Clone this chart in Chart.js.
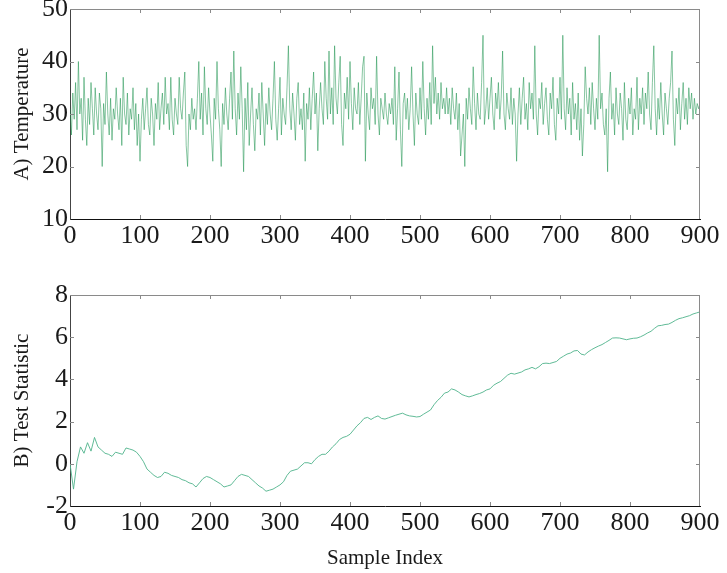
<!DOCTYPE html>
<html><head><meta charset="utf-8">
<script src="https://cdn.jsdelivr.net/npm/chart.js@4.4.0/dist/chart.umd.min.js"></script>
<style>
html,body{margin:0;padding:0;background:#fff;}
#wrap{position:relative;width:727px;height:573px;overflow:hidden;}
#c1{position:absolute;left:0;top:0;}
#c2{position:absolute;left:0;top:270px;}
</style></head><body>
<div id="wrap"><canvas id="c1" width="727" height="268"></canvas><canvas id="c2" width="727" height="303"></canvas></div>
<script>
// Panel A: temperature, one value every 2 samples (0..900)
const tempStep = 2;
const temperature = [
31,26,34,29,36,27,40,30,33,25,
37,29,24,33,28,36,31,26,35,30,
27,34,31,20,32,28,38,30,26,33,
25,31,29,35,30,27,33,24,37,30,
28,34,26,31,29,35,27,32,24,30,
21,29,33,27,31,35,28,26,33,30,
24,32,29,36,27,31,34,28,37,30,
32,27,37,29,26,33,30,28,37,31,
29,34,38,24,20,30,27,33,29,31,
27,33,40,29,34,26,39,31,28,35,
30,26,21,33,29,40,31,27,20,32,
28,35,30,27,33,38,29,42,31,26,
34,29,39,31,19,33,27,36,24,30,
35,28,23,31,29,34,26,36,30,24,
32,28,35,30,27,33,40,29,25,31,
37,26,33,30,28,35,43,31,27,34,
30,25,33,36,28,31,27,34,21,32,
29,35,27,33,38,30,34,23,31,36,
31,28,40,33,29,42,30,35,28,43,
33,30,36,41,28,24,34,31,37,29,
40,32,27,35,31,30,36,28,33,39,
41,21,34,30,27,35,31,33,28,41,
30,26,33,31,29,34,30,28,32,30,
33,28,39,25,31,38,27,20,32,34,
29,33,27,31,39,30,24,34,30,28,
35,29,40,31,26,33,29,36,28,43,
32,37,30,34,29,36,31,33,30,35,
30,33,28,35,31,29,34,27,32,22,
26,30,20,33,29,35,31,28,39,32,
27,34,30,29,36,45,28,31,35,29,
33,37,30,27,34,31,36,29,33,42,
30,27,34,31,29,35,28,33,30,21,
30,35,28,33,37,29,32,27,36,31,
34,29,43,30,26,33,31,36,28,32,
35,29,26,34,31,37,28,25,33,30,
37,29,45,31,27,35,30,33,26,36,
29,32,27,34,25,31,22,28,39,33,
30,35,28,36,31,27,33,29,45,31,
34,28,26,31,19,33,38,29,32,26,
35,30,28,34,31,25,36,29,27,33,
30,35,26,31,29,37,27,33,30,35,
28,34,31,38,30,27,36,43,31,26,
33,29,36,30,26,34,31,28,33,36,
42,29,24,33,30,35,27,32,36,29,
33,28,35,31,34,29,33,30,32,31,
32
];
// Panel B: test statistic, one value every 5 samples (0..900)
const statStep = 5;
const testStatistic = [
0.0,-1.2,0.1,0.8,0.5,1.0,0.6,1.25,0.8,0.65,
0.5,0.45,0.35,0.55,0.5,0.45,0.75,0.7,0.65,0.55,
0.35,0.1,-0.25,-0.4,-0.55,-0.65,-0.6,-0.4,-0.45,-0.55,
-0.6,-0.65,-0.75,-0.8,-0.9,-0.95,-1.1,-0.9,-0.7,-0.6,
-0.65,-0.75,-0.85,-0.95,-1.1,-1.05,-1.0,-0.8,-0.6,-0.5,
-0.55,-0.6,-0.75,-0.9,-1.05,-1.15,-1.3,-1.25,-1.2,-1.1,
-1.0,-0.85,-0.55,-0.35,-0.3,-0.25,-0.1,0.05,0.05,0.0,
0.2,0.35,0.45,0.45,0.6,0.8,0.95,1.15,1.25,1.3,
1.4,1.6,1.8,1.95,2.15,2.2,2.1,2.2,2.27,2.15,
2.12,2.18,2.24,2.3,2.35,2.4,2.32,2.27,2.25,2.22,
2.24,2.35,2.45,2.55,2.8,3.0,3.15,3.35,3.4,3.55,
3.5,3.4,3.28,3.22,3.17,3.22,3.28,3.33,3.4,3.5,
3.55,3.72,3.82,3.9,4.05,4.2,4.29,4.25,4.3,4.35,
4.45,4.5,4.57,4.5,4.6,4.75,4.77,4.75,4.8,4.85,
5.0,5.1,5.2,5.25,5.35,5.37,5.2,5.16,5.3,5.41,
5.5,5.58,5.65,5.75,5.85,5.96,5.97,5.96,5.92,5.88,
5.92,5.95,5.96,6.02,6.1,6.2,6.28,6.42,6.54,6.56,
6.6,6.62,6.7,6.8,6.88,6.92,6.97,7.02,7.1,7.15,
7.2
];
const xTickValues = [0,100,200,300,400,500,600,700,800,900];
const tempTickValues = [10,20,30,40,50];
const statTickValues = [-2,0,2,4,6,8];

const tempPoints = temperature.map((v,i)=>({x:i*tempStep,y:v}));
const statPoints = testStatistic.map((v,i)=>({x:i*statStep,y:v}));

const FONT = 'Liberation Serif, Times New Roman, serif';

// inward tick marks + top/right frame
const frameTicks = {
  id:'frameTicks',
  afterDraw(chart){
    const {ctx, chartArea:a, scales} = chart;
    const xs = scales.x, ys = scales.y;
    ctx.save();
    ctx.strokeStyle = '#8a8a8a';
    ctx.lineWidth = 1;
    ctx.beginPath();
    ctx.moveTo(a.left, a.top+0.5); ctx.lineTo(a.right, a.top+0.5);
    ctx.moveTo(a.right-0.5, a.top); ctx.lineTo(a.right-0.5, a.bottom);
    const L = 4;
    xs.ticks.forEach(t=>{
      if (t.value<=xs.min || t.value>=xs.max) return;
      const px = Math.round(xs.getPixelForValue(t.value))+0.5;
      ctx.moveTo(px,a.bottom); ctx.lineTo(px,a.bottom-L);
      ctx.moveTo(px,a.top); ctx.lineTo(px,a.top+L);
    });
    ys.ticks.forEach(t=>{
      if (t.value<=ys.min || t.value>=ys.max) return;
      const py = Math.round(ys.getPixelForValue(t.value))+0.5;
      ctx.moveTo(a.left,py); ctx.lineTo(a.left+L,py);
      ctx.moveTo(a.right,py); ctx.lineTo(a.right-L,py);
    });
    ctx.stroke();
    ctx.restore();
  }
};

function makeChart(id, points, yTicks, yTitle, color, width, opts){
  return new Chart(document.getElementById(id), {
    type:'line',
    data:{datasets:[{data:points, borderColor:color, borderWidth:width, pointRadius:0, tension:0, fill:false}]},
    options:{
      responsive:false, animation:false, devicePixelRatio:1,
      parsing:false, normalized:true,
      layout:{padding:opts.padding},
      plugins:{legend:{display:false}, tooltip:{enabled:false}},
      scales:{
        x:{type:'linear', min:0, max:900,
          afterBuildTicks(s){ s.ticks = xTickValues.map(v=>({value:v})); },
          afterFit(s){ s.height = opts.xHeight; s.paddingLeft=0; s.paddingRight=0; },
          grid:{display:false, drawTicks:false},
          border:{display:true, color:'#111', width:1},
          ticks:{font:{family:FONT,size:26}, color:'#1a1a1a', padding:opts.xPad, maxRotation:0, autoSkip:false},
          title:{display:!!opts.xTitle, text:opts.xTitle||'', font:{family:FONT,size:21}, color:'#1a1a1a', padding:{top:0,bottom:2}}
        },
        y:{type:'linear', min:yTicks[0], max:yTicks[yTicks.length-1],
          afterBuildTicks(s){ s.ticks = yTicks.map(v=>({value:v})); },
          afterFit(s){ s.width = 70; s.paddingTop=0; s.paddingBottom=0; },
          grid:{display:false, drawTicks:false},
          border:{display:true, color:'#444', width:1},
          ticks:{font:{family:FONT,size:26}, color:'#1a1a1a', padding:2},
          title:{display:true, text:yTitle, font:{family:FONT,size:21}, color:'#1a1a1a', padding:{top:10,bottom:0}}
        }
      }
    },
    plugins:[frameTicks]
  });
}

makeChart('c1', tempPoints, tempTickValues, 'A) Temperature', 'rgba(25,145,75,0.8)', 0.65,
  {padding:{left:0,right:27,top:9,bottom:0}, xHeight:49, xPad:2});
makeChart('c2', statPoints, statTickValues, 'B) Test Statistic', 'rgba(80,180,140,0.9)', 1,
  {padding:{left:0,right:27,top:25,bottom:0}, xHeight:67, xPad:2, xTitle:'Sample Index'});
</script>
</body></html>
